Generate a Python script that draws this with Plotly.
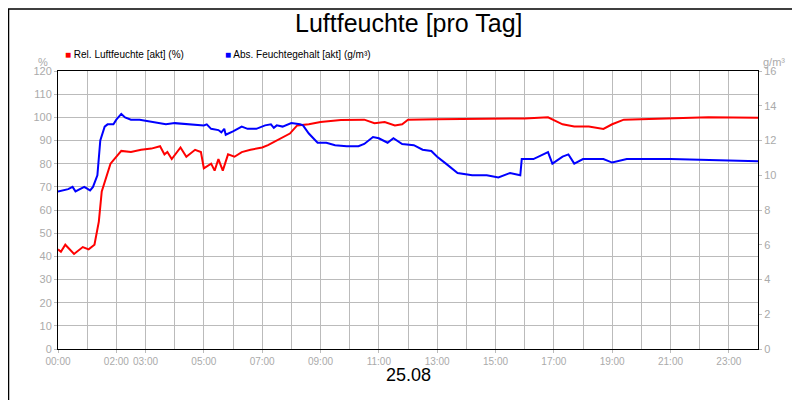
import plotly.graph_objects as go

# hours of day and values
rel_hours = [0, 0.1, 0.25, 0.55, 0.85, 1.05, 1.25, 1.4, 1.5, 1.8, 2.17, 2.5, 2.85, 3.2, 3.5, 3.65,
             3.75, 3.9, 4.2, 4.4, 4.7, 4.9, 5.0, 5.25, 5.37, 5.5, 5.65, 5.83, 6.05, 6.3, 6.6,
             7.0, 7.2, 7.65, 7.95, 8.2, 8.6, 9.0, 9.7, 10.5, 10.85, 11.2, 11.55, 11.8, 12.0,
             13.0, 14.0, 15.0, 16.0, 16.8, 17.3, 17.7, 18.2, 18.7, 19.0, 19.4, 20.6, 22.3, 24.0]
rel_humidity = [43, 42, 45, 41, 44, 43, 45, 55, 68, 80, 85.5, 85, 86, 86.5, 87.5, 84,
                85, 82, 87, 83, 86, 85, 78, 80, 77, 82, 77, 84, 83, 85, 86,
                87, 88, 91, 93, 96.5, 97, 98, 98.8, 99, 97.5, 98, 96.5, 97, 99,
                99.2, 99.3, 99.4, 99.5, 100, 97, 96, 96, 95, 97, 99, 99.5, 100, 99.8]

abs_hours = [0, 0.35, 0.5, 0.6, 0.9, 1.1, 1.2, 1.35, 1.45, 1.6, 1.7, 1.9, 2.0, 2.17, 2.3, 2.5,
             2.8, 3.2, 3.7, 4.0, 4.5, 5.0, 5.1, 5.25, 5.5, 5.6, 5.7, 5.75, 6.0, 6.3, 6.5,
             6.8, 7.1, 7.3, 7.4, 7.5, 7.7, 8.0, 8.3, 8.4, 8.6, 8.9, 9.2, 9.5, 9.9, 10.3,
             10.5, 10.8, 11.0, 11.3, 11.5, 11.8, 12.2, 12.5, 12.8, 13.0, 13.3, 13.7, 14.2,
             14.7, 15.1, 15.5, 15.85, 15.9, 16.3, 16.8, 16.95, 17.3, 17.5, 17.7, 18.0,
             18.7, 19.0, 19.5, 21.0, 23.0, 24.0]
abs_humidity = [9.07, 9.2, 9.33, 9.07, 9.33, 9.13, 9.33, 10.0, 12.0, 12.8, 12.93, 12.93, 13.2,
                13.53, 13.33, 13.2, 13.2, 13.07, 12.93, 13.0, 12.93, 12.87, 12.93, 12.67,
                12.6, 12.47, 12.67, 12.33, 12.53, 12.8, 12.67, 12.67, 12.87, 12.93, 12.73,
                12.87, 12.8, 13.0, 12.93, 12.87, 12.4, 11.87, 11.87, 11.73, 11.67, 11.67,
                11.8, 12.2, 12.13, 11.87, 12.13, 11.8, 11.73, 11.47, 11.4, 11.07, 10.67,
                10.13, 10.0, 10.0, 9.87, 10.13, 10.0, 10.93, 10.93, 11.33, 10.67, 11.07,
                11.2, 10.67, 10.93, 10.93, 10.73, 10.93, 10.93, 10.87, 10.8]

tick_hours = [0, 2, 3, 5, 7, 9, 11, 13, 15, 17, 19, 21, 23]
tick_labels = ['00:00', '02:00', '03:00', '05:00', '07:00', '09:00', '11:00', '13:00',
               '15:00', '17:00', '19:00', '21:00', '23:00']

fig = go.Figure()
fig.add_trace(go.Scatter(x=rel_hours, y=rel_humidity, mode='lines',
                         line=dict(color='#ff0000', width=2),
                         name='Rel. Luftfeuchte [akt] (%)'))
fig.add_trace(go.Scatter(x=abs_hours, y=abs_humidity, mode='lines', yaxis='y2',
                         line=dict(color='#0000ff', width=2),
                         name='Abs. Feuchtegehalt [akt] (g/m³)'))

grey = '#bbbbbb'
txt = '#aaaaaa'
fig.update_layout(
    width=800, height=400,
    paper_bgcolor='white', plot_bgcolor='white',
    font=dict(family='Arial, Liberation Sans', size=11, color=txt),
    margin=dict(l=50, r=50, t=63, b=59),
    showlegend=False,
    xaxis=dict(range=[0, 24], tickmode='array', tickvals=tick_hours, ticktext=tick_labels,
               tickangle=0, showgrid=True, gridcolor=grey,
               minor=dict(tickmode='linear', tick0=0, dtick=1, showgrid=True, gridcolor=grey),
               showline=True, linecolor='black', mirror=True, ticks='outside',
               ticklen=3, tickcolor=grey, zeroline=False, tickfont=dict(size=10)),
    yaxis=dict(range=[0, 120], dtick=10, showgrid=True, gridcolor=grey,
               showline=True, linecolor='black', mirror=True, ticks='outside',
               ticklen=3, tickcolor=grey, zeroline=False),
    yaxis2=dict(range=[0, 16], dtick=2, overlaying='y', side='right', showgrid=False,
                ticks='outside', ticklen=3, tickcolor=grey, zeroline=False),
    shapes=[dict(type='rect', xref='paper', yref='paper', x0=-0.0707, x1=1.07,
                 y0=-0.21, y1=1.2230, line=dict(color='black', width=1.5))],
    annotations=[
        dict(text='Luftfeuchte [pro Tag]', xref='paper', yref='paper', x=0.5, y=1.232,
             yanchor='top', showarrow=False, font=dict(size=25, color='black')),
        dict(text='<span style="color:#ff0000">■</span> Rel. Luftfeuchte [akt] (%)',
             xref='paper', yref='paper', x=0.007, y=1.085, xanchor='left', showarrow=False,
             font=dict(size=10, color='black')),
        dict(text='<span style="color:#0000ff">■</span> Abs. Feuchtegehalt [akt] (g/m³)',
             xref='paper', yref='paper', x=0.235, y=1.085, xanchor='left', showarrow=False,
             font=dict(size=10, color='black')),
        dict(text='%', xref='paper', yref='paper', x=-0.011, y=1.06, showarrow=False,
             xanchor='right', font=dict(size=11, color=txt)),
        dict(text='g/m³', xref='paper', yref='paper', x=1.004, y=1.06, showarrow=False,
             xanchor='left', font=dict(size=11, color=txt)),
        dict(text='25.08', xref='paper', yref='paper', x=0.5, y=-0.135, showarrow=False,
             font=dict(size=18, color='black')),
    ],
)
fig.write_html("out.html")
